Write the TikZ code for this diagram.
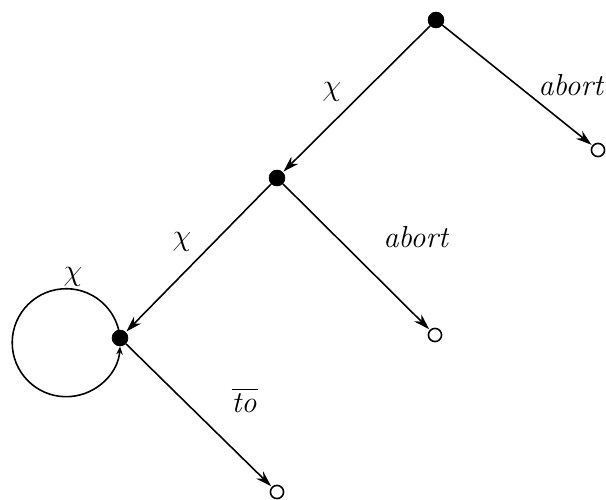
\documentclass[tikz,border=0pt]{standalone}
\usepackage{amsmath}
\usetikzlibrary{arrows.meta}
\tikzset{
 state/.style={circle,fill=black,draw=black,inner sep=0pt,minimum size=9pt},
 final/.style={circle,fill=white,draw=black,line width=0.9pt,inner sep=0pt,minimum size=7.5pt},
 arrow/.style={-{Stealth[length=3.2mm,width=2mm]},line width=0.9pt,draw=black,shorten >=0.5pt},
 loopline/.style={-{Stealth[length=1.6mm,width=1.3mm]},line width=0.9pt,draw=black},
 lbl/.style={font=\fontsize{19}{22}\selectfont}}

\begin{document}
\begin{tikzpicture}[x=0.02cm,y=-0.02cm]
\useasboundingbox (0,0) rectangle (606,500);
\node[state] (root) at (436,20) {};
\node[state] (mid) at (277,178) {};
\node[state] (low) at (120,338) {};
\node[final] (end1) at (598,150) {};
\node[final] (end2) at (435,335) {};
\node[final] (end3) at (277,492) {};
\draw[arrow] (root)--(mid) node[lbl] at (332,92) {$\chi$};
\draw[arrow] (root)--(end1) node[lbl] at (572,85) {$\mathit{abort}$};
\draw[arrow] (mid)--(low) node[lbl] at (182,242) {$\chi$};
\draw[arrow] (mid)--(end2) node[lbl] at (417,237) {$\mathit{abort}$};
\draw[arrow] (low)--(end3) node[lbl] at (245,400) {$\overline{\mathit{to}}$};
% self loop
\draw[loopline] (low.center) arc[start angle=-5,end angle=-356,radius=54] node[lbl] at (73,277) {$\chi$};
\end{tikzpicture}
\end{document}
